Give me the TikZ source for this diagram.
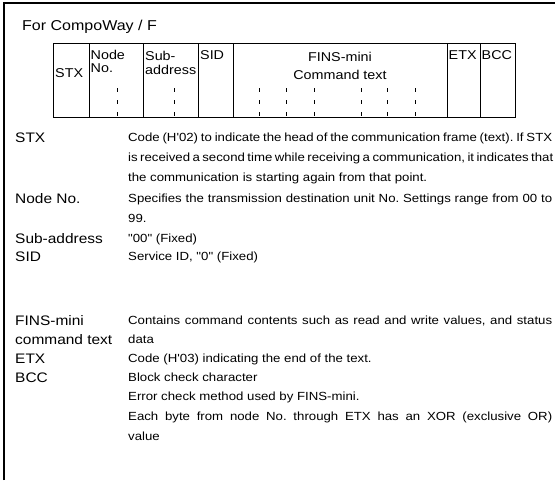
\documentclass[tikz,border=0pt]{standalone}
\usepackage{fontspec}
\setmainfont[FakeStretch=1.12,Ligatures=TeXOff]{Liberation Sans}
\frenchspacing
\newcommand{\jline}[1]{\makebox[424pt][s]{#1}}
\begin{document}
\begin{tikzpicture}[x=1pt,y=-1pt,
  lab/.style={anchor=base west,inner sep=0pt,font=\fontsize{13.8}{16}\selectfont},
  body/.style={anchor=base west,inner sep=0pt,font=\fontsize{11.8}{13}\selectfont},
  hdr/.style={anchor=base west,inner sep=0pt,font=\fontsize{12.8}{15}\selectfont},
  hdrc/.style={anchor=base,inner sep=0pt,font=\fontsize{12.8}{15}\selectfont},
  cellbox/.style={draw,line width=1pt,anchor=north west,inner sep=0pt,minimum height=74pt},
  tick/.style={line width=0.9pt,dash pattern=on 4pt off 8pt}]
\useasboundingbox (0,0) rectangle (555,480);
\fill[white] (0,0) rectangle (555,480);
% frame
\draw[line width=2pt] (3.7,480) -- (3.7,3) -- (555,3);
% title
\node[lab,font=\fontsize{14.3}{16}\selectfont] (title) at (22,30) {For CompoWay / F};
% table cells
\node[cellbox,minimum width=36pt] (cstx) at (53,43) {};
\node[cellbox,minimum width=54pt] (cnode) at (89,43) {};
\node[cellbox,minimum width=55pt] (csub) at (143,43) {};
\node[cellbox,minimum width=35pt] (csid) at (198,43) {};
\node[cellbox,minimum width=214pt] (cfins) at (233,43) {};
\node[cellbox,minimum width=33pt] (cetx) at (447,43) {};
\node[cellbox,minimum width=35pt] (cbcc) at (480,43) {};
% header texts
\node[hdr] (tstx) at (55,77) {STX};
\node[hdr] (tnode1) at (90.5,59) {Node};
\node[hdr] (tnode2) at (90.5,72) {No.};
\node[hdr] (tsub1) at (145,60) {Sub-};
\node[hdr] (tsub2) at (145,74) {address};
\node[hdr] (tsid) at (200,59) {SID};
\node[hdrc] (tfins1) at (340,61) {FINS-mini};
\node[hdrc] (tfins2) at (340,79) {Command text};
\node[hdr] (tetx) at (448.5,59) {ETX};
\node[hdr] (tbcc) at (481.5,59) {BCC};
% dashed ticks
\foreach \x in {117,174,259,286,314,361,387,415}
  \draw[tick] (\x,88) -- (\x,117);
% labels
\node[lab] (lstx) at (15,142) {STX};
\node[lab] (lnode) at (15,203) {Node No.};
\node[lab] (lsub) at (15,243) {Sub-address};
\node[lab] (lsid) at (15,261) {SID};
\node[lab] (lfins1) at (15,325) {FINS-mini};
\node[lab] (lfins2) at (15,344) {command text};
\node[lab] (letx) at (15,363) {ETX};
\node[lab] (lbcc) at (15,382) {BCC};
% body
\node[body] (b1) at (128,141) {\jline{Code (H'02) to indicate the head of the communication frame (text). If STX}};
\node[body] (b2) at (128,161) {\jline{is received a second time while receiving a communication, it indicates that}};
\node[body] (b3) at (128,181) {the communication is starting again from that point.};
\node[body] (b4) at (128,202) {\jline{Specifies the transmission destination unit No. Settings range from 00 to}};
\node[body] (b5) at (128,222) {99.};
\node[body] (b6) at (128,242) {"00" (Fixed)};
\node[body] (b7) at (128,260) {Service ID, "0" (Fixed)};
\node[body] (b8) at (128,324) {\jline{Contains command contents such as read and write values, and status}};
\node[body] (b9) at (128,343) {data};
\node[body] (b10) at (128,362) {Code (H'03) indicating the end of the text.};
\node[body] (b11) at (128,381) {Block check character};
\node[body] (b12) at (128,400) {Error check method used by FINS-mini.};
\node[body] (b13) at (128,420) {\jline{Each byte from node No. through ETX has an XOR (exclusive OR)}};
\node[body] (b14) at (128,440) {value};
\end{tikzpicture}
\end{document}
